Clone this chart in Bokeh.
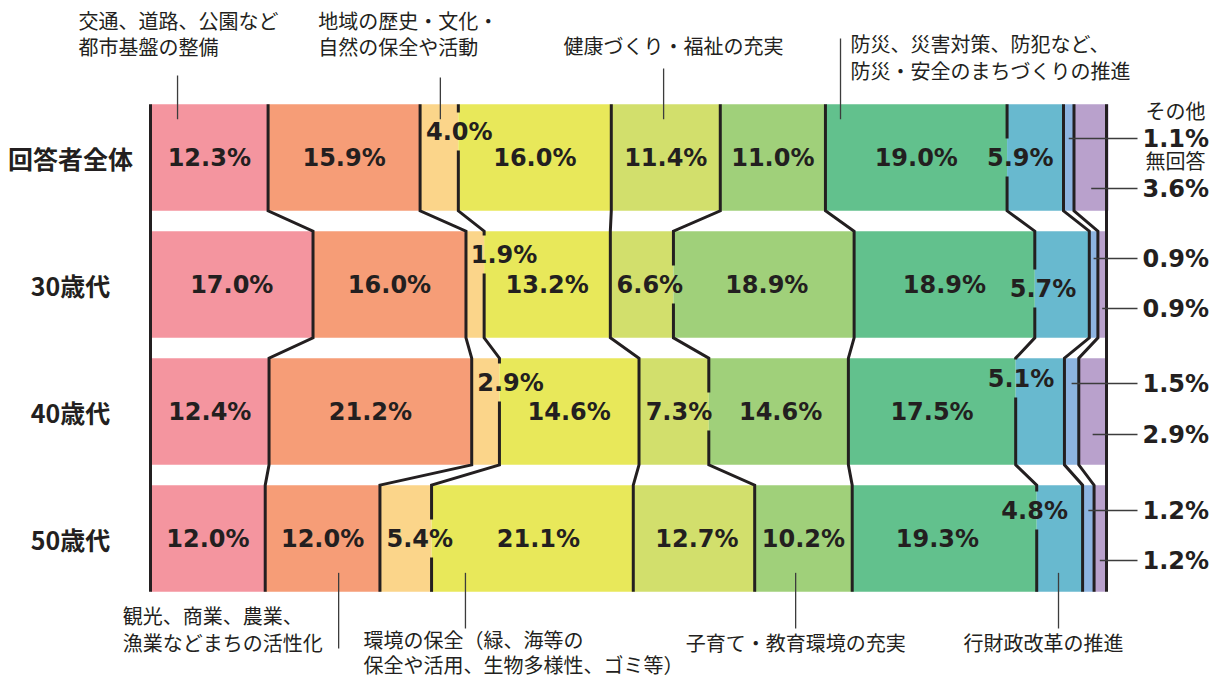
from bokeh.plotting import figure
from bokeh.models import Range1d
from bokeh.embed import file_html
from bokeh.resources import INLINE
from bokeh.core.properties import value

# ---------------- data ----------------
row_labels = ["回答者全体", "30歳代", "40歳代", "50歳代"]
cat_names = [
    "交通、道路、公園など都市基盤の整備",
    "観光、商業、農業、漁業などまちの活性化",
    "地域の歴史・文化・自然の保全や活動",
    "環境の保全（緑、海等の保全や活用、生物多様性、ゴミ等）",
    "健康づくり・福祉の充実",
    "子育て・教育環境の充実",
    "防災、災害対策、防犯など、防災・安全のまちづくりの推進",
    "行財政改革の推進",
    "その他",
    "無回答",
]
v_all = [12.3, 15.9, 4.0, 16.0, 11.4, 11.0, 19.0, 5.9, 1.1, 3.6]
v_30 = [17.0, 16.0, 1.9, 13.2, 6.6, 18.9, 18.9, 5.7, 0.9, 0.9]
v_40 = [12.4, 21.2, 2.9, 14.6, 7.3, 14.6, 17.5, 5.1, 1.5, 2.9]
v_50 = [12.0, 12.0, 5.4, 21.1, 12.7, 10.2, 19.3, 4.8, 1.2, 1.2]
series = [v_all, v_30, v_40, v_50]

colors = ["#f4959f", "#f69d77", "#fbd58a", "#e8e85a", "#d2df6c",
          "#a0d07a", "#62c18d", "#68b9cf", "#8db4e0", "#b9a1cc"]

# ---------------- layout ----------------
W, H = 1219, 679
PX_X0 = 150.0
PX_PER_PCT = 9.56
PX_ROW0 = 157.0
PX_PER_ROW = 127.0
BAR_H = 0.84
HB = BAR_H / 2
INK = "#231f20"
LEAD = "#3c3c3c"
PCT_FONT = value("DejaVu Sans")
JP_FONT = value("Noto Sans CJK JP")
PCT_SIZE = 24


def dxp(px):
    return px / PX_PER_PCT


def dyp(py):
    return py / PX_PER_ROW


def X(px):
    return (px - PX_X0) / PX_PER_PCT


def Y(py):
    return (py - PX_ROW0) / PX_PER_ROW


p = figure(width=W, height=H, x_range=Range1d(X(0), X(W)), y_range=Range1d(Y(H), Y(0)),
           output_backend="svg", toolbar_location=None,
           x_axis_location=None, y_axis_location=None, min_border=0)
p.outline_line_color = None
p.grid.visible = False
p.background_fill_color = "white"
p.border_fill_color = "white"

# cumulative positions
cums = []
for vals in series:
    c = [0.0]
    for v in vals:
        c.append(c[-1] + v)
    cums.append(c)

# bars
ys, lefts, rights, fills = [], [], [], []
for r, vals in enumerate(series):
    for k, v in enumerate(vals):
        ys.append(r)
        lefts.append(cums[r][k])
        rights.append(cums[r][k + 1])
        fills.append(colors[k])
p.hbar(y=ys, left=lefts, right=rights, height=BAR_H, fill_color=fills, line_color=None)

# percent labels inside bars (categories 0..7)
label_shift = {
    (0, 2): (20, -26), (0, 7): (-15, 0),
    (1, 2): (29, -30), (1, 4): (8, 0), (1, 5): (3, 0), (1, 7): (-19, 4),
    (2, 2): (25, -29), (2, 4): (5, 0), (2, 5): (2, 0), (2, 7): (-19, -33),
    (3, 2): (14, 0), (3, 3): (6, 0), (3, 4): (3, 0), (3, 6): (-7, 0), (3, 7): (-25, -28),
}


def text_w(s, size):
    w = 0.0
    for ch in s:
        if ch.isdigit():
            w += 0.696
        elif ch == ".":
            w += 0.38
        elif ch == "%":
            w += 1.002
    return w * size


lx, ly, lt = [], [], []
boxes = []
for r, vals in enumerate(series):
    for k in range(8):
        s = f"{vals[k]:.1f}%"
        sx, sy = label_shift.get((r, k), (0, 0))
        cx = (cums[r][k] + cums[r][k + 1]) / 2 + dxp(sx)
        cy = r + dyp(sy)
        lx.append(cx)
        ly.append(cy)
        lt.append(s)
        boxes.append((r, cx, cy, dxp(text_w(s, PCT_SIZE) / 2 + 2)))

# boundary lines with breaks behind labels
breaks = {}
for k in range(1, 10):
    for (r, cx, cy, hw) in boxes:
        bx = cums[r][k]
        if abs(bx - cx) < hw:
            breaks.setdefault((r, k), []).append((cy - dyp(19), cy + dyp(19)))

xs_l, ys_l = [], []
for k in range(0, 11):
    cur = []
    for r in range(4):
        if k == 0:
            x = 0.0
        elif k == 10:
            x = 100.0
        else:
            x = cums[r][k]
        cur.append((x, r - HB))
        for (y1, y2) in sorted(breaks.get((r, k), [])):
            cur.append((x, y1))
            xs_l.append([pt[0] for pt in cur])
            ys_l.append([pt[1] for pt in cur])
            cur = [(x, y2)]
        cur.append((x, r + HB))
    xs_l.append([pt[0] for pt in cur])
    ys_l.append([pt[1] for pt in cur])
p.multi_line(xs_l, ys_l, line_color=INK, line_width=3, line_join="miter")

p.text(x=lx, y=ly, text=lt, text_font=PCT_FONT, text_font_style="bold",
       text_font_size=f"{PCT_SIZE}px", text_align="center", text_baseline="middle",
       text_color=INK)

# row labels
p.text(x=[X(70)] * 4, y=list(range(4)), text=row_labels, text_font=JP_FONT,
       text_font_style="bold", text_font_size="25px", text_align="center",
       text_baseline="middle", text_color=INK)

# callouts for main categories
callouts = [
    # row, cat, frac along segment, side, line far end (px), text dx (px), text lines, text ys (px)
    (0, 0, 0.23, "top", 75, -99, ["交通、道路、公園など", "都市基盤の整備"], [20, 46]),
    (0, 2, 0.53, "top", 77, -122, ["地域の歴史・文化・", "自然の保全や活動"], [20, 46]),
    (0, 4, 0.48, "top", 68, -100, ["健康づくり・福祉の充実"], [45]),
    (0, 6, 0.083, "top", 38, 10, ["防災、災害対策、防犯など、", "防災・安全のまちづくりの推進"], [43, 70]),
    (3, 1, 0.64, "bottom", 648, -216, ["観光、商業、農業、", "漁業などまちの活性化"], [615, 642]),
    (3, 3, 0.168, "bottom", 628, -102, ["環境の保全（緑、海等の", "保全や活用、生物多様性、ゴミ等）"], [639, 664]),
    (3, 5, 0.42, "bottom", 628, -110, ["子育て・教育環境の充実"], [642]),
    (3, 7, 0.475, "bottom", 628, -95, ["行財政改革の推進"], [642]),
]
cxs, cys = [], []
tx, ty, tt = [], [], []
for (r, k, frac, side, far, tdx, lines, tys) in callouts:
    ax = cums[r][k] + frac * series[r][k]
    if side == "top":
        near = r - HB + dyp(15)
    else:
        near = r + HB - dyp(19)
    cxs.append([ax, ax])
    cys.append([near, Y(far)])
    for line, tyy in zip(lines, tys):
        tx.append(ax + dxp(tdx))
        ty.append(Y(tyy))
        tt.append(line)

# right-side labels for その他 / 無回答
lead_off = [(-19, 31), (-26, 24), (-28, 23), (-28, 22)]
rx, ry, rt = [], [], []
for r, vals in enumerate(series):
    for j, k in enumerate((8, 9)):
        ax = (cums[r][k] + cums[r][k + 1]) / 2
        yy = r + dyp(lead_off[r][j])
        cxs.append([ax, X(1137)])
        cys.append([yy, yy])
        rx.append(X(1142))
        ry.append(yy)
        rt.append(f"{vals[k]:.1f}%")
        if r == 0:
            tx.append(X(1145))
            ty.append(yy - dyp(28))
            tt.append(cat_names[k])

p.multi_line(cxs, cys, line_color=LEAD, line_width=1.3)
p.text(x=tx, y=ty, text=tt, text_font=JP_FONT, text_font_size="20px",
       text_align="left", text_baseline="middle", text_color=INK)
p.text(x=rx, y=ry, text=rt, text_font=PCT_FONT, text_font_style="bold",
       text_font_size=f"{PCT_SIZE}px", text_align="left", text_baseline="middle",
       text_color=INK)

open("out.html", "w").write(file_html(p, INLINE))
